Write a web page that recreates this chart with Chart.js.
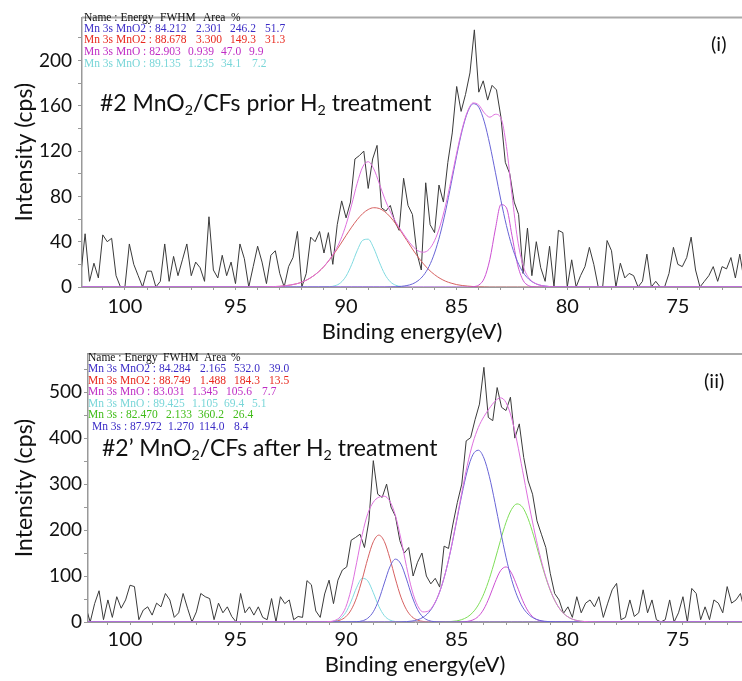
<!DOCTYPE html>
<html lang="en">
<head>
  <meta charset="UTF-8">
  <title>Mn 3s XPS – MnO2/CFs before and after H2 treatment</title>
  <script src="https://cdn.jsdelivr.net/npm/chart.js@4.4.0/dist/chart.umd.min.js"></script>
  <style>
    body { margin: 0; background: #fff; width: 742px; height: 681px; overflow: hidden; position: relative; font-family: Lato, sans-serif; }
    canvas { position: absolute; left: 0; }
    .note { position: absolute; color: #111; line-height: 1; white-space: nowrap; }
    .note sub { font-size: 62%; vertical-align: -0.3em; line-height: 0; }
    .fits { position: absolute; font-family: "Liberation Serif", serif; font-size: 11.5px; line-height: 1; }
    .fits span { position: absolute; white-space: nowrap; }
  </style>
</head>
<body>
  <canvas id="c1" width="742" height="345" style="top:0"></canvas>
  <canvas id="c2" width="742" height="341" style="top:340px"></canvas>

  <div class="note" style="left:100px;top:91px;font-size:23px">#2 MnO<sub>2</sub>/CFs prior H<sub>2</sub> treatment</div>
  <div class="note" style="left:711px;top:33px;font-size:20px">(i)</div>
  <div class="note" style="left:102px;top:436px;font-size:23px">#2’ MnO<sub>2</sub>/CFs after H<sub>2</sub> treatment</div>
  <div class="note" style="left:704px;top:370px;font-size:20px">(ii)</div>

  <div class="fits" id="fits1" style="left:0;top:0"></div>
  <div class="fits" id="fits2" style="left:0;top:340px"></div>

  <script>
    // ---------- panel (i): #2 before H2 ----------
    // raw spectrum, 102 -> 72 eV every 0.2 eV (rows of 2 eV)
    const rawE = [
      102, 101.8, 101.6, 101.4, 101.2, 101, 100.8, 100.6, 100.4, 100.2,
      100, 99.8, 99.6, 99.4, 99.2, 99, 98.8, 98.6, 98.4, 98.2,
      98, 97.8, 97.6, 97.4, 97.2, 97, 96.8, 96.6, 96.4, 96.2,
      96, 95.8, 95.6, 95.4, 95.2, 95, 94.8, 94.6, 94.4, 94.2,
      94, 93.8, 93.6, 93.4, 93.2, 93, 92.8, 92.6, 92.4, 92.2,
      92, 91.8, 91.6, 91.4, 91.2, 91, 90.8, 90.6, 90.4, 90.2,
      90, 89.8, 89.6, 89.4, 89.2, 89, 88.8, 88.6, 88.4, 88.2,
      88, 87.8, 87.6, 87.4, 87.2, 87, 86.8, 86.6, 86.4, 86.2,
      86, 85.8, 85.6, 85.4, 85.2, 85, 84.8, 84.6, 84.4, 84.2,
      84, 83.8, 83.6, 83.4, 83.2, 83, 82.8, 82.6, 82.4, 82.2,
      82, 81.8, 81.6, 81.4, 81.2, 81, 80.8, 80.6, 80.4, 80.2,
      80, 79.8, 79.6, 79.4, 79.2, 79, 78.8, 78.6, 78.4, 78.2,
      78, 77.8, 77.6, 77.4, 77.2, 77, 76.8, 76.6, 76.4, 76.2,
      76, 75.8, 75.6, 75.4, 75.2, 75, 74.8, 74.6, 74.4, 74.2,
      74, 73.8, 73.6, 73.4, 73.2, 73, 72.8, 72.6, 72.4, 72.2,
      72
    ];
    const raw1 = [
      10, 47, 5, 21, 8, 46, 40, 43, 10, 0,
      0, 38, 20, 10, 0, 14, 14, 0, 5, 38,
      5, 27, 10, 24, 38, 10, 22, 17, 5, 62,
      15, 8, 28, 10, 22, 3, 38, 25, 0, 18,
      36, 22, 3, 28, 32, 12, 0, 18, 26, 49,
      0, 12, 44, 40, 49, 30, 48, 20, 55, 76,
      61, 75, 113, 116, 120, 87, 113, 125, 70, 67,
      72, 58, 50, 96, 72, 64, 30, 15, 92, 55,
      48, 90, 75, 110, 136, 177, 155, 170, 189, 227,
      172, 182, 165, 178, 174, 150, 110, 100, 75, 64,
      12, 52, 10, 40, 17, 5, 36, 0, 50, 48,
      0, 24, 0, 10, 18, 35, 20, 0, 0, 41,
      32, 0, 21, 8, 12, 10, 0, 5, 29, 0,
      5, 0, 0, 12, 35, 20, 18, 26, 44, 15,
      0, 5, 10, 18, 5, 18, 16, 26, 8, 29,
      5
    ];

    // fitted components, 94 -> 80 eV every 0.25 eV, plus the flat ends at 102 and 72
    const fitE1 = [
      102,
      94, 93.75, 93.5, 93.25, 93, 92.75, 92.5, 92.25,
      92, 91.75, 91.5, 91.25, 91, 90.75, 90.5, 90.25,
      90, 89.75, 89.5, 89.25, 89, 88.75, 88.5, 88.25,
      88, 87.75, 87.5, 87.25, 87, 86.75, 86.5, 86.25,
      86, 85.75, 85.5, 85.25, 85, 84.75, 84.5, 84.25,
      84, 83.75, 83.5, 83.25, 83, 82.75, 82.5, 82.25,
      82, 81.75, 81.5, 81.25, 81, 80.75, 80.5, 80.25,
      80, 72
    ];
    const mno2Blue1 = [
      0,
      0, 0, 0, 0, 0, 0, 0, 0,
      0, 0, 0, 0, 0, 0, 0, 0,
      0, 0, 0, 0, 0, 0, 0, 0,
      0.1, 0.2, 0.6, 1.3, 2.7, 5.5, 10.3, 18.1,
      30.0, 46.4, 67.2, 91.2, 116.1, 138.4, 154.6, 161.8,
      158.7, 145.8, 125.5, 101.3, 76.5, 54.2, 36.0, 22.4,
      13.0, 7.1, 3.6, 1.7, 0.8, 0.3, 0.1, 0,
      0, 0
    ];
    const mno2Red1 = [
      0,
      0, 0.1, 0.2, 0.4, 0.6, 1.1, 1.8, 2.8,
      4.3, 6.5, 9.5, 13.3, 18.1, 24.0, 30.6, 37.9,
      45.5, 52.8, 59.4, 64.8, 68.4, 70.0, 69.3, 66.5,
      61.8, 55.6, 48.5, 41.0, 33.5, 26.5, 20.4, 15.1,
      10.9, 7.6, 5.1, 3.4, 2.1, 1.3, 0.8, 0.4,
      0.2, 0.1, 0, 0, 0, 0, 0, 0,
      0, 0, 0, 0, 0, 0, 0, 0,
      0, 0
    ];
    const mnoMagenta1 = [
      0,
      0, 0, 0, 0, 0, 0, 0, 0,
      0, 0, 0, 0, 0, 0, 0, 0,
      0, 0, 0, 0, 0, 0, 0, 0,
      0, 0, 0, 0, 0, 0, 0, 0,
      0, 0, 0, 0, 0, 0, 0, 0.3,
      1.7, 7.8, 24.4, 51.2, 72.7, 69.9, 45.5, 20.0,
      6.0, 1.2, 0.2, 0, 0, 0, 0, 0,
      0, 0
    ];
    const mnoCyan1 = [
      0,
      0, 0, 0, 0, 0, 0, 0, 0,
      0, 0, 0, 0, 0.1, 0.3, 1.1, 3.7,
      9.6, 19.7, 32.0, 41.2, 42.2, 34.3, 22.1, 11.3,
      4.6, 1.5, 0.4, 0.1, 0, 0, 0, 0,
      0, 0, 0, 0, 0, 0, 0, 0,
      0, 0, 0, 0, 0, 0, 0, 0,
      0, 0, 0, 0, 0, 0, 0, 0,
      0, 0
    ];
    const envelope1 = [
      0,
      0, 0.1, 0.2, 0.4, 0.6, 1.1, 1.8, 2.8,
      4.3, 6.5, 9.5, 13.3, 18.2, 24.3, 31.7, 41.6,
      55.1, 72.5, 91.4, 106.0, 110.6, 104.3, 91.4, 77.8,
      66.5, 57.3, 49.5, 42.4, 36.2, 32.0, 30.7, 33.2,
      40.9, 54.0, 72.3, 94.6, 118.2, 139.7, 155.4, 162.5,
      160.6, 153.7, 149.9, 152.5, 149.2, 124.1, 81.5, 42.4,
      19.0, 8.3, 3.8, 1.7, 0.8, 0.3, 0.1, 0,
      0, 0
    ];

    // ---------- panel (ii): #2' after H2 ----------
    const raw2 = [
      33, 0, 40, 68, 5, 48, 10, 55, 30, 48,
      80, 77, 5, 26, 33, 15, 41, 33, 62, 48,
      10, 20, 62, 30, 0, 22, 62, 55, 51, 5,
      41, 20, 33, 12, 0, 62, 20, 33, 15, 33,
      10, 5, 51, 0, 55, 40, 48, 5, 12, 10,
      90, 81, 24, 10, 61, 91, 40, 91, 113, 120,
      178, 184, 191, 162, 220, 351, 278, 271, 300, 250,
      230, 177, 150, 162, 100, 130, 150, 100, 83, 95,
      76, 165, 160, 213, 260, 300, 394, 401, 440, 474,
      554, 445, 438, 510, 467, 460, 489, 400, 431, 358,
      307, 278, 220, 191, 162, 106, 62, 48, 19, 33,
      10, 55, 20, 41, 48, 33, 55, 10, 41, 70,
      84, 5, 10, 48, 12, 20, 70, 20, 48, 5,
      0, 5, 48, 0, 20, 55, 0, 73, 62, 5,
      33, 5, 48, 41, 20, 77, 41, 48, 62, 20,
      30
    ];

    // fitted components, 92 -> 78.5 eV every 0.25 eV, plus the flat ends
    const fitE2 = [
      102,
      92, 91.75, 91.5, 91.25, 91, 90.75, 90.5, 90.25,
      90, 89.75, 89.5, 89.25, 89, 88.75, 88.5, 88.25,
      88, 87.75, 87.5, 87.25, 87, 86.75, 86.5, 86.25,
      86, 85.75, 85.5, 85.25, 85, 84.75, 84.5, 84.25,
      84, 83.75, 83.5, 83.25, 83, 82.75, 82.5, 82.25,
      82, 81.75, 81.5, 81.25, 81, 80.75, 80.5, 80.25,
      80, 79.75, 79.5, 79.25, 79, 78.75, 78.5,
      72
    ];
    const mno2Blue2 = [
      0,
      0, 0, 0, 0, 0, 0, 0, 0,
      0, 0, 0, 0, 0, 0, 0, 0,
      0.1, 0.3, 0.8, 2.1, 4.8, 10.2, 20.5, 38.0,
      65.5, 104.8, 155.9, 215.3, 276.1, 328.9, 363.8, 373.7,
      356.6, 315.9, 259.9, 198.7, 141.0, 92.9, 56.9, 32.4,
      17.1, 8.4, 3.8, 1.6, 0.6, 0.2, 0.1, 0,
      0, 0, 0, 0, 0, 0, 0,
      0
    ];
    const mno2Red2 = [
      0,
      0, 0, 0, 0.1, 0.3, 1.3, 4.1, 11.2,
      26.6, 53.8, 93.2, 138.0, 174.6, 189.0, 174.9, 138.3,
      93.6, 54.1, 26.8, 11.3, 4.1, 1.3, 0.3, 0.1,
      0, 0, 0, 0, 0, 0, 0, 0,
      0, 0, 0, 0, 0, 0, 0, 0,
      0, 0, 0, 0, 0, 0, 0, 0,
      0, 0, 0, 0, 0, 0, 0,
      0
    ];
    const mnoMagenta2 = [
      0,
      0, 0, 0, 0, 0, 0, 0, 0,
      0, 0, 0, 0, 0, 0, 0, 0,
      0, 0, 0, 0, 0, 0, 0, 0,
      0, 0, 0, 0.1, 0.3, 1.3, 4.4, 12.3,
      28.4, 54.3, 85.6, 111.5, 119.8, 106.3, 77.9, 47.1,
      23.5, 9.7, 3.3, 0.9, 0.2, 0, 0, 0,
      0, 0, 0, 0, 0, 0, 0,
      0
    ];
    const mnoCyan2 = [
      0,
      0, 0, 0, 0.1, 0.4, 1.8, 7.0, 20.4,
      45.3, 75.5, 94.8, 89.5, 63.7, 34.1, 13.7, 4.2,
      1.0, 0.2, 0, 0, 0, 0, 0, 0,
      0, 0, 0, 0, 0, 0, 0, 0,
      0, 0, 0, 0, 0, 0, 0, 0,
      0, 0, 0, 0, 0, 0, 0, 0,
      0, 0, 0, 0, 0, 0, 0,
      0
    ];
    const mn3sGreen2 = [
      0,
      0, 0, 0, 0, 0, 0, 0, 0,
      0, 0, 0, 0, 0, 0, 0, 0,
      0, 0, 0, 0, 0, 0, 0, 0,
      0.1, 0.4, 1.0, 2.3, 5.2, 10.8, 20.9, 37.3,
      61.7, 94.7, 134.6, 177.4, 216.6, 245.0, 256.9, 249.5,
      224.6, 187.4, 144.8, 103.7, 68.9, 42.4, 24.1, 12.8,
      6.2, 2.8, 1.2, 0.5, 0.2, 0, 0,
      0
    ];
    const mn3sBlue2 = [
      0,
      0, 0, 0, 0, 0, 0, 0, 0,
      0.1, 0.6, 2.5, 8.3, 22.3, 48.4, 84.9, 120.0,
      136.8, 125.9, 93.4, 55.9, 27.0, 10.5, 3.3, 0.8,
      0.2, 0, 0, 0, 0, 0, 0, 0,
      0, 0, 0, 0, 0, 0, 0, 0,
      0, 0, 0, 0, 0, 0, 0, 0,
      0, 0, 0, 0, 0, 0, 0,
      0
    ];
    const envelope2 = [
      0,
      0, 0, 0, 0.1, 0.7, 3.1, 11.1, 31.6,
      72.0, 129.9, 190.5, 235.8, 260.6, 271.5, 273.5, 262.5,
      231.5, 180.5, 121.0, 69.3, 35.9, 22.0, 24.1, 39.0,
      65.8, 105.2, 156.9, 217.7, 281.6, 341.0, 389.1, 423.3,
      446.7, 464.9, 480.1, 487.6, 477.4, 444.2, 391.7, 329.0,
      265.2, 205.5, 151.9, 106.2, 69.7, 42.7, 24.2, 12.8,
      6.2, 2.8, 1.2, 0.5, 0.2, 0.05, 0,
      0
    ];

    // fit tables (text shown in the top-left corner of each panel)
    const fitHeader = ['Name : Energy', 'FWHM', 'Area', '%'];
    const fitRows1 = [
      ['Mn 3s MnO2 : 84.212', '2.301', '246.2', '51.7'],
      ['Mn 3s MnO2 : 88.678', '3.300', '149.3', '31.3'],
      ['Mn 3s MnO : 82.903', '0.939', '47.0', '9.9'],
      ['Mn 3s MnO : 89.135', '1.235', '34.1', '7.2']
    ];
    const fitRows2 = [
      ['Mn 3s MnO2 : 84.284', '2.165', '532.0', '39.0'],
      ['Mn 3s MnO2 : 88.749', '1.488', '184.3', '13.5'],
      ['Mn 3s MnO : 83.031', '1.345', '105.6', '7.7'],
      ['Mn 3s MnO : 89.425', '1.105', '69.4', '5.1'],
      ['Mn 3s : 82.470', '2.133', '360.2', '26.4'],
      ['Mn 3s : 87.972', '1.270', '114.0', '8.4']
    ];

    const C = {
      raw: '#3a3a3a',
      blue: 'rgb(104,100,214)',
      red: 'rgb(214,96,96)',
      magenta: 'rgb(204,80,210)',
      cyan: 'rgb(128,218,224)',
      green: 'rgb(126,222,88)',
      envelope: 'rgb(222,112,222)'
    };
    const textColors1 = ['#3b2cc6', '#e8281e', '#bf2cc4', '#79d6d8'];
    const textColors2 = ['#3b2cc6', '#e8281e', '#bf2cc4', '#79d6d8', '#3fbc16', '#3b2cc6'];

    function fitTable(el, rows, colors, cols, headCols, rowTops, indents) {
      let html = '';
      fitHeader.forEach((t, j) => {
        html += '<span style="left:' + headCols[j] + 'px;top:' + rowTops[0] + 'px;color:#111">' + t + '</span>';
      });
      rows.forEach((r, i) => {
        r.forEach((t, j) => {
          const left = j === 0 ? indents[i] : cols[i][j - 1];
          html += '<span style="left:' + left + 'px;top:' + rowTops[i + 1] + 'px;color:' + colors[i] + '">' + t + '</span>';
        });
      });
      el.innerHTML = html;
    }

    fitTable(document.getElementById('fits1'), fitRows1, textColors1,
      [[196, 230, 265], [196, 230, 265], [188, 221, 249], [188, 221, 252]],
      [84, 160, 203, 231], [12, 23, 34, 46, 58], [84, 84, 84, 84]);
    fitTable(document.getElementById('fits2'), fitRows2, textColors2,
      [[200, 234, 269], [200, 234, 269], [192, 226, 262], [192, 224, 252], [166, 198, 233], [168, 199, 234]],
      [88, 163, 204, 231], [12, 23, 34.5, 46, 58, 69, 81], [88, 88, 88, 88, 88, 92]);

    function series(xs, ys, color, smooth) {
      return {
        data: xs.map((x, i) => ({ x: x, y: ys[i] })),
        borderColor: color,
        borderWidth: 1,
        pointRadius: 0,
        fill: false,
        tension: 0,
        cubicInterpolationMode: smooth ? 'monotone' : 'default'
      };
    }

    // draws the grey line along the top of the plot area
    const topFrame = {
      id: 'topFrame',
      afterDraw(chart) {
        const { ctx, chartArea: a } = chart;
        ctx.save();
        ctx.strokeStyle = '#aaa';
        ctx.lineWidth = 2;
        ctx.beginPath();
        ctx.moveTo(a.left, a.top);
        ctx.lineTo(a.right, a.top);
        ctx.stroke();
        ctx.restore();
      }
    };

    function makeChart(id, datasets, o) {
      return new Chart(document.getElementById(id), {
        type: 'line',
        data: { datasets: datasets },
        plugins: [topFrame],
        options: {
          responsive: false,
          animation: false,
          events: [],
          layout: { padding: { top: 14, left: 0, right: 0, bottom: 0 } },
          plugins: { legend: { display: false }, tooltip: { enabled: false } },
          scales: {
            x: {
              type: 'linear', reverse: true, min: o.xMin, max: o.xMax,
              afterFit: s => { s.height = o.xHeight; },
              ticks: {
                stepSize: 1, includeBounds: false, autoSkip: false, maxRotation: 0,
                padding: o.xPad, labelOffset: o.xLabelOffset, color: '#111',
                font: { family: 'Lato', size: 20 },
                callback: v => (v % 5 === 0 ? v : '')
              },
              grid: { drawOnChartArea: false, color: '#999', tickLength: 3 },
              border: { color: '#999', width: 1 },
              title: {
                display: true, text: 'Binding energy(eV)', color: '#111',
                font: { family: 'Lato', size: 22 }, padding: { top: 0, bottom: o.xTitlePad }
              }
            },
            y: {
              min: 0, max: o.yMax,
              afterFit: s => { s.width = o.yWidth; },
              ticks: {
                stepSize: o.yMinor, includeBounds: false, autoSkip: false,
                padding: o.yPad, color: '#111',
                font: { family: 'Lato', size: 19 },
                callback: v => (v % o.yMajor === 0 ? v : '')
              },
              grid: { drawOnChartArea: false, color: '#999', tickLength: 4 },
              border: { color: '#999', width: 1.5 },
              title: {
                display: true, text: 'Intensity (cps)', color: '#111',
                font: { family: 'Lato', size: 23 }, padding: { top: 11, bottom: 0 }
              }
            }
          }
        }
      });
    }

    makeChart('c1', [
      series(fitE1, envelope1, C.envelope, true),
      series(fitE1, mno2Blue1, C.blue, true),
      series(fitE1, mnoMagenta1, C.magenta, true),
      series(fitE1, mno2Red1, C.red, true),
      series(fitE1, mnoCyan1, C.cyan, true),
      series(rawE, raw1, C.raw, false)
    ], { xMin: 72.1, xMax: 101.94, xHeight: 58, xPad: 5, xLabelOffset: 0, xTitlePad: 0,
         yMax: 238, yMinor: 20, yMajor: 40, yWidth: 82, yPad: 6 });

    makeChart('c2', [
      series(fitE2, envelope2, C.envelope, true),
      series(fitE2, mno2Blue2, C.blue, true),
      series(fitE2, mn3sBlue2, C.blue, true),
      series(fitE2, mnoMagenta2, C.magenta, true),
      series(fitE2, mn3sGreen2, C.green, true),
      series(fitE2, mno2Red2, C.red, true),
      series(fitE2, mnoCyan2, C.cyan, true),
      series(rawE, raw2, C.raw, false)
    ], { xMin: 72.33, xMax: 101.9, xHeight: 59, xPad: 3, xLabelOffset: -5, xTitlePad: 3,
         yMax: 583, yMinor: 50, yMajor: 100, yWidth: 88, yPad: 2 });
  </script>
</body>
</html>
